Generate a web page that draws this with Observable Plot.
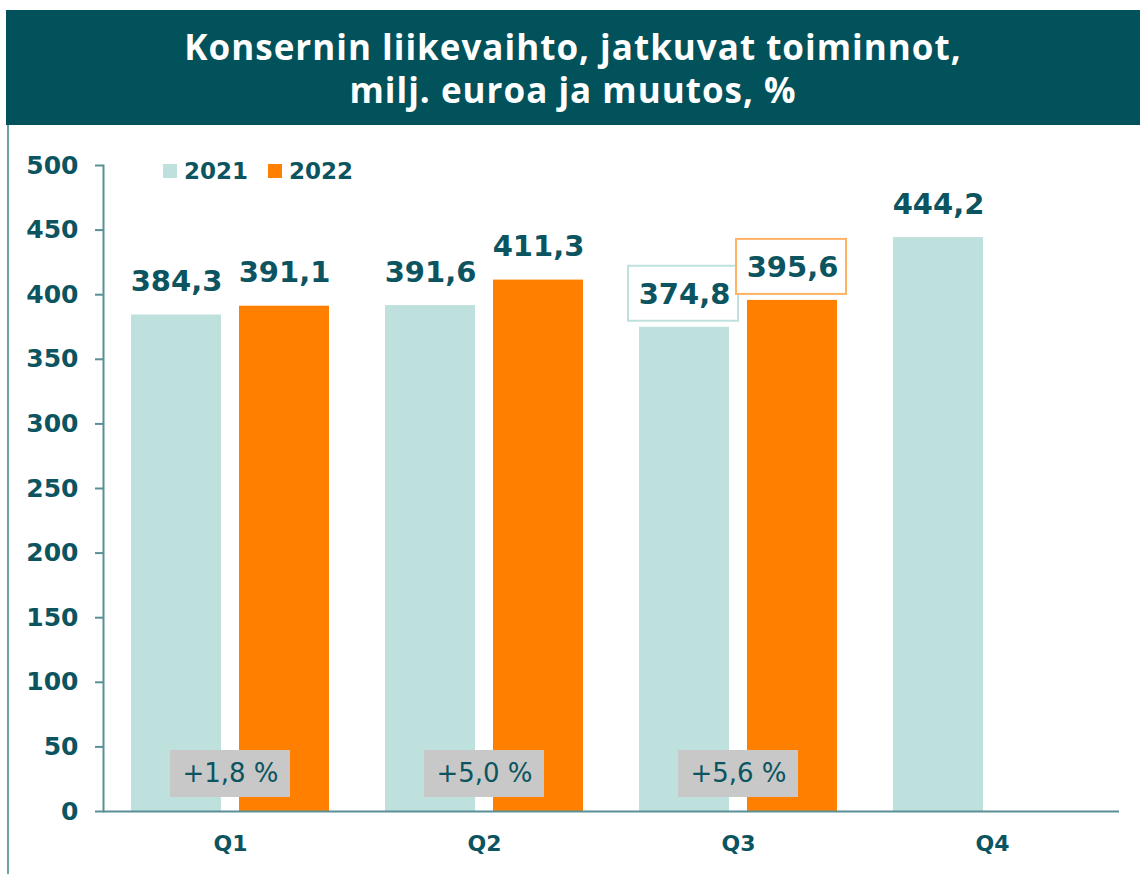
<!DOCTYPE html>
<html>
<head>
<meta charset="utf-8">
<script src="https://cdn.jsdelivr.net/npm/d3@7"></script>
<script src="https://cdn.jsdelivr.net/npm/@observablehq/plot@0.6"></script>
<style>
  html, body { margin: 0; padding: 0; background: #fff; }
  #page { position: relative; width: 1140px; height: 874px; overflow: hidden; }
  #banner { position: absolute; left: 6px; top: 10px; width: 1134px; height: 115px; background: #01525B;
    color: #fff; font-family: "Open Sans", sans-serif; font-weight: 700; font-size: 35px; line-height: 43px;
    text-align: center; display: flex; flex-direction: column; justify-content: center; letter-spacing: 1px; }
  #leftline { position: absolute; left: 7px; top: 125px; width: 2px; height: 749px; background: #6f9ea4; }
  #chart { position: absolute; left: 0; top: 125px; }
  #legend { position: absolute; left: 163px; top: 158px; display: flex; align-items: center;
    font-family: "DejaVu Sans", sans-serif; font-weight: bold; font-size: 23px; color: #0b5460; }
  #legend span.sw { display: inline-block; width: 14px; height: 14px; margin-right: 7px; }
  #legend span.item { display: inline-flex; align-items: center; margin-right: 20px; }
</style>
</head>
<body>
<div id="page">
  <div id="banner"><div>Konsernin liikevaihto, jatkuvat toiminnot,</div><div>milj. euroa ja muutos, %</div></div>
  <div id="leftline"></div>
  <div id="chart"></div>
  <div id="legend"></div>
</div>
<script>
// ---- data ----
const quarters = ["Q1", "Q2", "Q3", "Q4"];
const years = ["2021", "2022"];
const values2021 = [384.3, 391.6, 374.8, 444.2];
const values2022 = [391.1, 411.3, 395.6, null];
const changes = [1.8, 5.0, 5.6];          // % change per quarter
const boxedQuarter = "Q3";                // labels drawn with a frame
const yTicks = [0, 50, 100, 150, 200, 250, 300, 350, 400, 450, 500];
const colors = ["#BFE1DD", "#FF8000"];
const boxStroke = { "2021": "#BFE1DD", "2022": "#FFB266" };

const textColor = "#0b5460";
const fmt = v => d3.format(".1f")(v).replace(".", ",");

const rows = [];
quarters.forEach((q, i) => {
  if (values2021[i] != null) rows.push({q, year: "2021", value: values2021[i]});
  if (values2022[i] != null) rows.push({q, year: "2022", value: values2022[i]});
});
const pct = changes.map((c, i) => ({q: quarters[i], label: "+" + fmt(c) + " %"}));
const boxed = rows.filter(d => d.q === boxedQuarter);

// legend
const leg = document.getElementById("legend");
years.forEach((y, i) => {
  const it = document.createElement("span"); it.className = "item";
  it.innerHTML = `<span class="sw" style="background:${colors[i]}"></span>${y}`;
  leg.appendChild(it);
});

const chart = Plot.plot({
  width: 1140,
  height: 749,
  marginLeft: 103,
  marginRight: 21,
  marginTop: 40,
  marginBottom: 63,
  style: { fontFamily: "DejaVu Sans, sans-serif", color: textColor, background: "transparent", overflow: "visible" },
  fx: { domain: quarters, padding: 0, label: null },
  x: { domain: years, paddingInner: 0.165, paddingOuter: 0.248, axis: null },
  y: { domain: [0, 500], label: null },
  color: { domain: years, range: colors },
  marks: [
    Plot.axisY({ ticks: yTicks, tickSize: 8, tickPadding: 17, fontSize: 25, fontWeight: "bold",
      label: null, stroke: "#5a8f96", strokeWidth: 2, fill: textColor }),
    Plot.frame({ anchor: "left", facetAnchor: "left", stroke: "#5a8f96", strokeWidth: 2 }),
    Plot.axisFx({ anchor: "bottom", tickSize: 0, tickPadding: 24, fontSize: 22, fontWeight: "bold",
      label: null, fill: textColor }),
    Plot.barY(rows, { fx: "q", x: "year", y: "value", fill: "year" }),
    Plot.barY(pct, { fx: "q", y1: 0, y2: 0, insetLeft: 67, insetRight: 67, insetTop: -61, insetBottom: 14,
      fill: "#c8c8c8" }),
    Plot.text(pct, { fx: "q", y: 0, text: "label", dy: -38, fontSize: 26, fill: textColor,
      lineAnchor: "middle" }),
    Plot.ruleY([0], { stroke: "#5a8f96", strokeWidth: 2 }),
    Plot.barY(boxed, { fx: "q", x: "year", y1: "value", y2: "value",
      insetTop: -61, insetBottom: 6, insetLeft: -11, insetRight: -9,
      fill: "white", stroke: d => boxStroke[d.year], strokeWidth: 2 }),
    Plot.text(rows, { fx: "q", x: "year", y: "value", text: d => fmt(d.value), dy: -33,
      lineAnchor: "middle", fontSize: 29, fontWeight: "bold", fill: textColor })
  ]
});
document.getElementById("chart").appendChild(chart);
</script>
</body>
</html>
